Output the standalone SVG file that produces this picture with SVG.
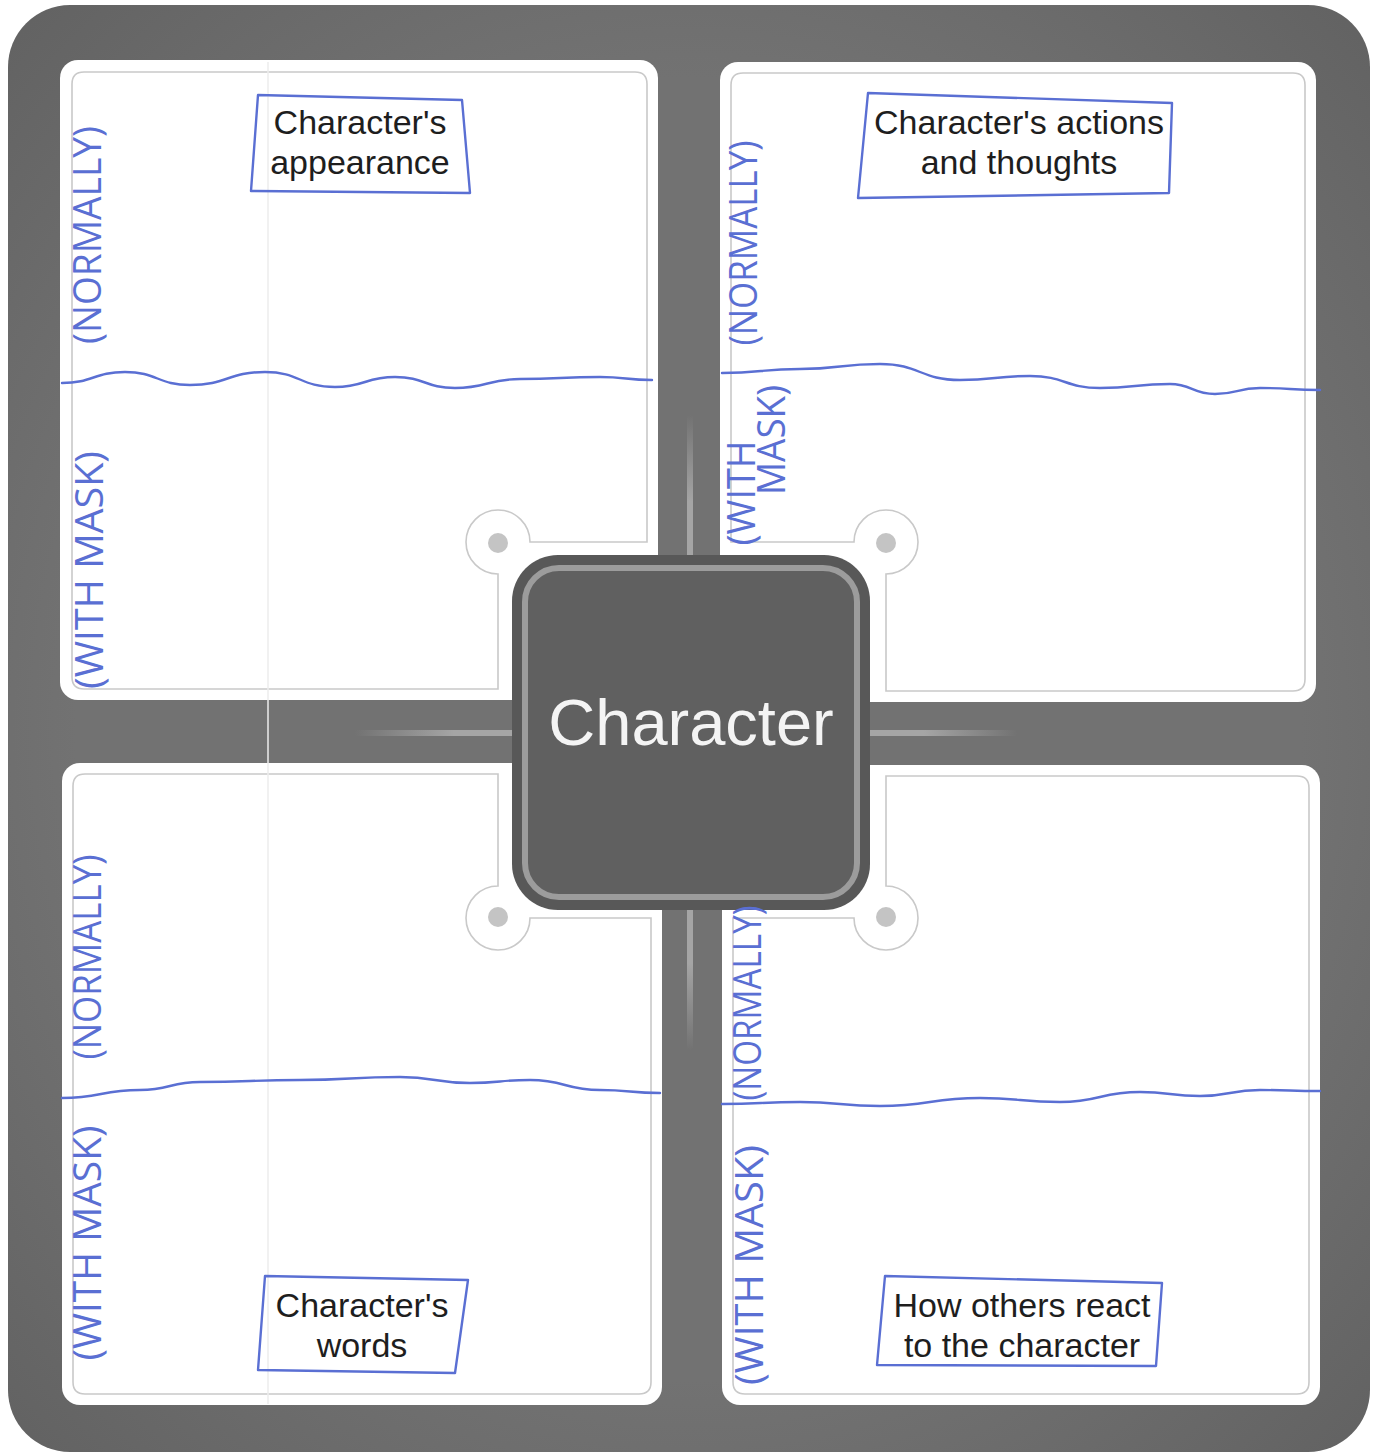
<svg xmlns="http://www.w3.org/2000/svg" width="1378" height="1454" viewBox="0 0 1378 1454">
<style>
.panel{fill:#ffffff;}
.inner{fill:none;stroke:#c9c9c9;stroke-width:1.6;}
.dot{fill:#c4c4c4;}
.pen{fill:none;stroke:#5a6fd3;stroke-width:2.4;stroke-linejoin:round;stroke-linecap:round;}
.hand{font-family:"Open Sans","Liberation Sans",Arial,sans-serif;font-weight:400;font-size:38px;fill:#5a6fd3;text-anchor:middle;dominant-baseline:central;}
.lbl{font-family:"Liberation Sans",Arial,sans-serif;font-size:34px;fill:#1e1e1e;text-anchor:middle;}
.title{font-family:"Liberation Sans",Arial,sans-serif;font-size:65px;fill:#f4f4f4;text-anchor:middle;}
</style>
<defs>
<linearGradient id="gv" x1="0" y1="0" x2="0" y2="1">
<stop offset="0" stop-color="#a5a5a5" stop-opacity="0"/>
<stop offset="0.6" stop-color="#a5a5a5" stop-opacity="1"/>
<stop offset="1" stop-color="#a5a5a5" stop-opacity="1"/>
</linearGradient>
<linearGradient id="gv2" x1="0" y1="1" x2="0" y2="0">
<stop offset="0" stop-color="#a5a5a5" stop-opacity="0"/>
<stop offset="0.6" stop-color="#a5a5a5" stop-opacity="1"/>
<stop offset="1" stop-color="#a5a5a5" stop-opacity="1"/>
</linearGradient>
<linearGradient id="gh" x1="0" y1="0" x2="1" y2="0">
<stop offset="0" stop-color="#a5a5a5" stop-opacity="0"/>
<stop offset="0.6" stop-color="#a5a5a5" stop-opacity="1"/>
<stop offset="1" stop-color="#a5a5a5" stop-opacity="1"/>
</linearGradient>
<linearGradient id="gh2" x1="1" y1="0" x2="0" y2="0">
<stop offset="0" stop-color="#a5a5a5" stop-opacity="0"/>
<stop offset="0.6" stop-color="#a5a5a5" stop-opacity="1"/>
<stop offset="1" stop-color="#a5a5a5" stop-opacity="1"/>
</linearGradient>
<radialGradient id="frame" cx="0.5" cy="0.5" r="0.75">
<stop offset="0.6" stop-color="#727272"/>
<stop offset="1" stop-color="#5f5f5f"/>
</radialGradient>
</defs>

<!-- outer frame -->
<rect x="8" y="5" width="1362" height="1447" rx="62" fill="url(#frame)"/>

<!-- panels -->
<g id="panel-tl">
<rect class="panel" x="60" y="60" width="598" height="640" rx="18"/>
<path class="inner" d="M84,72 H635 Q647,72 647,84 V542 H530 A32,32 0 1 0 498,574 V689 H84 Q72,689 72,677 V84 Q72,72 84,72 Z"/>
<circle class="dot" cx="498" cy="543" r="10"/>
</g>
<g id="panel-tr">
<rect class="panel" x="720" y="62" width="596" height="640" rx="18"/>
<path class="inner" d="M743,73 H1293 Q1305,73 1305,85 V679 Q1305,691 1293,691 H886 V574 A32,32 0 1 0 854,542 H731 V85 Q731,73 743,73 Z"/>
<circle class="dot" cx="886" cy="543" r="10"/>
</g>
<g id="panel-bl">
<rect class="panel" x="62" y="763" width="600" height="642" rx="18"/>
<path class="inner" d="M85,774 H498 V886 A32,32 0 1 0 530,918 H651 V1382 Q651,1394 639,1394 H85 Q73,1394 73,1382 V786 Q73,774 85,774 Z"/>
<circle class="dot" cx="498" cy="917" r="10"/>
</g>
<g id="panel-br">
<rect class="panel" x="722" y="765" width="598" height="640" rx="18"/>
<path class="inner" d="M886,776 H1297 Q1309,776 1309,788 V1382 Q1309,1394 1297,1394 H745 Q733,1394 733,1382 V918 H854 A32,32 0 1 0 886,886 Z"/>
<circle class="dot" cx="886" cy="917" r="10"/>
</g>

<!-- faint scan line -->
<line x1="268" y1="62" x2="268" y2="1404" stroke="#ececec" stroke-width="1.5"/>

<!-- connectors -->
<g id="connectors">
<rect x="687" y="415" width="6" height="145" fill="url(#gv)"/>
<rect x="687" y="905" width="6" height="145" fill="url(#gv2)"/>
<rect x="355" y="730" width="165" height="6" fill="url(#gh)"/>
<rect x="862" y="730" width="155" height="6" fill="url(#gh2)"/>
</g>

<!-- center node -->
<g id="center">
<rect x="512" y="555" width="358" height="355" rx="46" fill="#585858"/>
<rect x="525" y="568" width="332" height="329" rx="34" fill="#606060" stroke="#9c9c9c" stroke-width="6"/>
<text class="title" x="691" y="745">Character</text>
</g>

<!-- handwritten divider lines -->
<g id="dividers">
<path class="pen" d="M62,383 C93,383 94,372 125,372 C157,372 158,385 190,385 C227,385 228,372 265,372 C300,372 300,387 335,387 C365,387 365,377 395,377 C425,377 425,388 455,388 C487,388 488,379 520,379 C560,379 560,377 600,377 C626,377 626,380 652,380"/>
<path class="pen" d="M722,373 C761,373 761,369 800,369 C840,369 840,364 880,364 C920,364 920,380 960,380 C995,380 995,376 1030,376 C1065,376 1065,388 1100,388 C1135,388 1135,384 1170,384 C1192,384 1192,394 1215,394 C1237,394 1237,388 1260,388 C1290,388 1290,390 1320,390"/>
<path class="pen" d="M62,1098 C101,1098 101,1090 140,1090 C170,1090 170,1082 200,1082 C250,1082 250,1080 300,1080 C350,1080 350,1077 400,1077 C435,1077 435,1083 470,1083 C500,1083 500,1080 530,1080 C565,1080 565,1090 600,1090 C630,1090 630,1093 660,1093"/>
<path class="pen" d="M722,1104 C761,1104 761,1102 800,1102 C840,1102 840,1106 880,1106 C930,1106 930,1098 980,1098 C1020,1098 1020,1102 1060,1102 C1100,1102 1100,1092 1140,1092 C1170,1092 1170,1096 1200,1096 C1230,1096 1230,1090 1260,1090 C1290,1090 1290,1091 1320,1091"/>
</g>

<!-- handwritten side labels -->
<g id="side-labels">
<text class="hand" transform="translate(86,235) rotate(-90)" textLength="218" lengthAdjust="spacingAndGlyphs">(NORMALLY)</text>
<text class="hand" transform="translate(88,570) rotate(-90)" textLength="238" lengthAdjust="spacingAndGlyphs">(WITH MASK)</text>
<text class="hand" transform="translate(742,243) rotate(-90)" textLength="205" lengthAdjust="spacingAndGlyphs">(NORMALLY)</text>
<text class="hand" transform="translate(740,493) rotate(-90)" textLength="105" lengthAdjust="spacingAndGlyphs">(WITH</text>
<text class="hand" transform="translate(770,440) rotate(-90)" textLength="110" lengthAdjust="spacingAndGlyphs">MASK)</text>
<text class="hand" transform="translate(86,957) rotate(-90)" textLength="205" lengthAdjust="spacingAndGlyphs">(NORMALLY)</text>
<text class="hand" transform="translate(86,1243) rotate(-90)" textLength="235" lengthAdjust="spacingAndGlyphs">(WITH MASK)</text>
<text class="hand" transform="translate(746,1003) rotate(-90)" textLength="195" lengthAdjust="spacingAndGlyphs">(NORMALLY)</text>
<text class="hand" transform="translate(748,1265) rotate(-90)" textLength="240" lengthAdjust="spacingAndGlyphs">(WITH MASK)</text>
</g>

<!-- title boxes -->
<g id="box-appearance">
<path class="pen" d="M258,95 L462,100 L470,193 L251,191 Z"/>
<text class="lbl" x="360" y="134">Character's</text>
<text class="lbl" x="360" y="174">appearance</text>
</g>
<g id="box-actions">
<path class="pen" d="M868,93 L1172,103 L1169,193 L858,198 Z"/>
<text class="lbl" x="1019" y="134">Character's actions</text>
<text class="lbl" x="1019" y="174">and thoughts</text>
</g>
<g id="box-words">
<path class="pen" d="M265,1276 L468,1280 L455,1373 L258,1370 Z"/>
<text class="lbl" x="362" y="1317">Character's</text>
<text class="lbl" x="362" y="1357">words</text>
</g>
<g id="box-react">
<path class="pen" d="M885,1276 L1162,1283 L1156,1366 L877,1365 Z"/>
<text class="lbl" x="1022" y="1317">How others react</text>
<text class="lbl" x="1022" y="1357">to the character</text>
</g>
</svg>
